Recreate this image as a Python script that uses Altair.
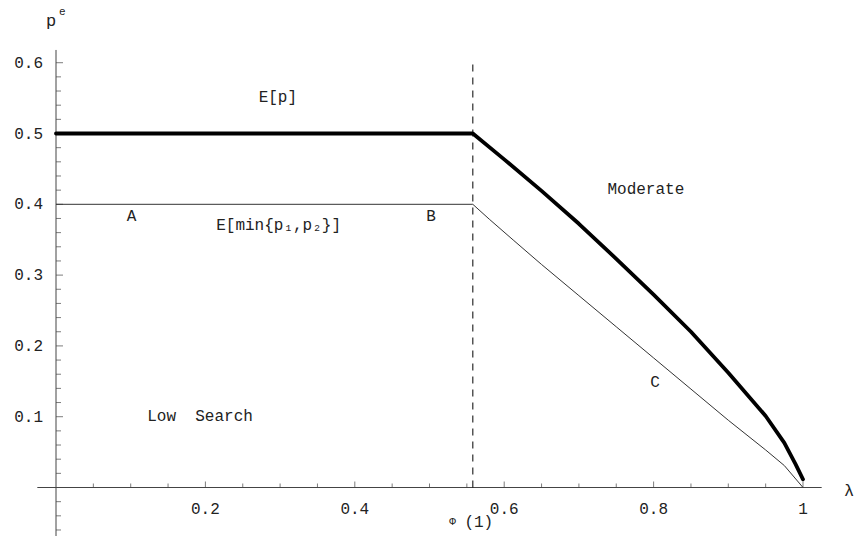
import altair as alt
import pandas as pd

# ---------------- data ----------------
# thick curve: E[p]
lam_thick = [0.0, 0.558, 0.600, 0.650, 0.700, 0.750, 0.800, 0.850, 0.900, 0.950, 0.975, 0.990, 1.0]
p_thick = [0.5, 0.5, 0.4635, 0.419, 0.3725, 0.323, 0.2725, 0.220, 0.162, 0.101, 0.063, 0.033, 0.0116]

# thin curve: E[min{p1,p2}]
lam_thin = [0.0, 0.558, 0.580, 0.612, 0.650, 0.700, 0.750, 0.800, 0.850, 0.900, 0.950, 0.975, 1.0]
p_thin = [0.4, 0.4, 0.379, 0.3496, 0.315, 0.271, 0.227, 0.183, 0.139, 0.095, 0.053, 0.031, 0.0]

# dashed vertical line at Phi(1)
phi_1 = [0.558]
dash_bottom = [0.0]
dash_top = [0.603]

# axes
x_major = [0.2, 0.4, 0.6, 0.8, 1.0]
x_major_labels = ["0.2", "0.4", "0.6", "0.8", "1"]
x_minor = [0.05, 0.1, 0.15, 0.25, 0.3, 0.35, 0.45, 0.5, 0.55, 0.65, 0.7, 0.75, 0.85, 0.9, 0.95]
y_major = [0.1, 0.2, 0.3, 0.4, 0.5, 0.6]
y_major_labels = ["0.1", "0.2", "0.3", "0.4", "0.5", "0.6"]
y_minor = [-0.06, -0.04, -0.02, 0.02, 0.04, 0.06, 0.08, 0.12, 0.14, 0.16, 0.18,
           0.22, 0.24, 0.26, 0.28, 0.32, 0.34, 0.36, 0.38, 0.42, 0.44, 0.46, 0.48,
           0.52, 0.54, 0.56, 0.58]
x_axis_extent = [-0.025, 1.025]
y_axis_extent = [-0.0685, 0.618]

# annotations (text, lambda, p)
ann_text = ["E[p]", "A", "E[min{p₁,p₂}]", "B", "Moderate", "C", "Low\u00a0\u00a0Search", "(1)"]
ann_x = [0.297, 0.101, 0.298, 0.502, 0.7896, 0.802, 0.1928, 0.566]
ann_y = [0.551, 0.384, 0.371, 0.3835, 0.4216, 0.1494, 0.101, -0.0487]

small_text = ["Φ", "e"]
small_x = [0.531, 0.0085]
small_y = [-0.0487, 0.6716]

axis_title_text = ["p", "λ"]
axis_title_x = [-0.0067, 1.0616]
axis_title_y = [0.659, -0.005]

# ---------------- chart ----------------
X_DOM = [-0.07497, 1.06827]
Y_DOM = [-0.0685, 0.68856]
FONT = "Liberation Mono"
AX = "#444444"


def X(f="x"):
    return alt.X(f, type="quantitative", scale=alt.Scale(domain=X_DOM, nice=False, zero=False), axis=None)


def Y(f="y"):
    return alt.Y(f, type="quantitative", scale=alt.Scale(domain=Y_DOM, nice=False, zero=False), axis=None)


thick_df = pd.DataFrame({"x": lam_thick, "y": p_thick, "o": range(len(lam_thick))})
thin_df = pd.DataFrame({"x": lam_thin, "y": p_thin, "o": range(len(lam_thin))})

thick = alt.Chart(thick_df).mark_line(color="black", strokeWidth=3.8, strokeJoin="round", strokeCap="round").encode(
    x=X(), y=Y(), order="o:Q")
thin = alt.Chart(thin_df).mark_line(color="#333333", strokeWidth=1).encode(
    x=X(), y=Y(), order="o:Q")

dash_df = pd.DataFrame({"x": phi_1, "y": dash_bottom, "y2": dash_top})
dashed = alt.Chart(dash_df).mark_rule(color="black", strokeWidth=1, strokeDash=[7, 6]).encode(
    x=X(), y=Y(), y2="y2")

xaxis_df = pd.DataFrame({"x": [x_axis_extent[0]], "x2": [x_axis_extent[1]], "y": [0.0]})
xaxis = alt.Chart(xaxis_df).mark_rule(color=AX, strokeWidth=1).encode(x=X(), x2="x2", y=Y())
yaxis_df = pd.DataFrame({"x": [0.0], "y": [y_axis_extent[0]], "y2": [y_axis_extent[1]]})
yaxis = alt.Chart(yaxis_df).mark_rule(color=AX, strokeWidth=1).encode(x=X(), y=Y(), y2="y2")

xmaj_df = pd.DataFrame({"x": x_major, "y": [0.0] * len(x_major), "t": x_major_labels})
xmin_df = pd.DataFrame({"x": x_minor, "y": [0.0] * len(x_minor)})
ymaj_df = pd.DataFrame({"x": [0.0] * len(y_major), "y": y_major, "t": y_major_labels})
ymin_df = pd.DataFrame({"x": [0.0] * len(y_minor), "y": y_minor})

xmaj_ticks = alt.Chart(xmaj_df).mark_tick(orient="vertical", size=6, thickness=1, color=AX, yOffset=-3).encode(
    x=X(), y=Y())
xmin_ticks = alt.Chart(xmin_df).mark_tick(orient="vertical", size=4, thickness=1, color=AX, yOffset=-2).encode(
    x=X(), y=Y())
ymaj_ticks = alt.Chart(ymaj_df).mark_tick(orient="horizontal", size=7, thickness=1, color=AX, xOffset=3.5).encode(
    x=X(), y=Y())
ymin_ticks = alt.Chart(ymin_df).mark_tick(orient="horizontal", size=5, thickness=1, color=AX, xOffset=2.5).encode(
    x=X(), y=Y())

xlabels = alt.Chart(xmaj_df).mark_text(font=FONT, fontSize=16, color="#222222", align="center",
                                       baseline="middle", dy=21).encode(x=X(), y=Y(), text="t:N")
ylabels = alt.Chart(ymaj_df).mark_text(font=FONT, fontSize=16, color="#222222", align="right",
                                       baseline="middle", dx=-13).encode(x=X(), y=Y(), text="t:N")

ann_df = pd.DataFrame({"x": ann_x, "y": ann_y, "t": ann_text})
ann = alt.Chart(ann_df).mark_text(font=FONT, fontSize=16, color="#222222", align="center",
                                  baseline="middle").encode(x=X(), y=Y(), text="t:N")
small_df = pd.DataFrame({"x": small_x, "y": small_y, "t": small_text})
small = alt.Chart(small_df).mark_text(font=FONT, fontSize=11, color="#222222", align="center",
                                      baseline="middle").encode(x=X(), y=Y(), text="t:N")
titles_df = pd.DataFrame({"x": axis_title_x, "y": axis_title_y, "t": axis_title_text})
titles = alt.Chart(titles_df).mark_text(font=FONT, fontSize=17, color="#222222", align="center",
                                        baseline="middle").encode(x=X(), y=Y(), text="t:N")

chart = alt.layer(
    xaxis, yaxis, xmaj_ticks, xmin_ticks, ymaj_ticks, ymin_ticks,
    dashed, thin, thick, xlabels, ylabels, ann, small, titles
).properties(
    width=854, height=536, padding=0,
    autosize=alt.AutoSizeParams(type="none"),
    background="white"
).configure_view(stroke=None)

chart.save("out.html", embed_options={"renderer": "svg", "actions": False})
